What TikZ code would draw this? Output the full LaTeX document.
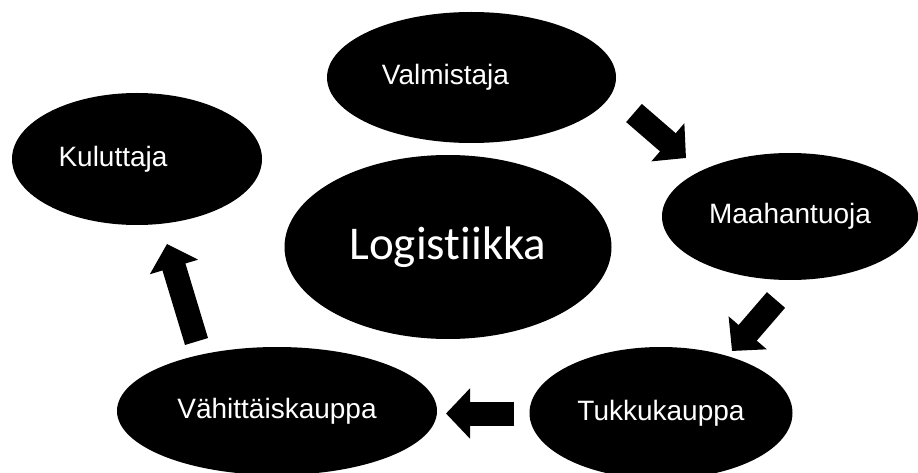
\documentclass[tikz,border=0pt]{standalone}
\usepackage{fontspec}
\setmainfont{Liberation Sans}
\newfontfamily\hubfont[Ligatures=NoCommon]{Carlito}
\usetikzlibrary{shapes.geometric,arrows.meta}
\tikzset{
    stage/.style={ellipse, fill=black, text=white, inner sep=0pt,
        font=\fontsize{28}{32}\selectfont},
    hub/.style={stage, font=\hubfont\fontsize{47}{52}\selectfont},
    flow/.style={line width=24pt, -{Triangle[length=24pt, width=49pt]}}
}
\begin{document}
\begin{tikzpicture}[x=1pt, y=-1pt]
        \useasboundingbox (0, 0) rectangle (918, 473);
        \node[stage, minimum width=289pt, minimum height=131pt] (valm) at (471.5, 77.5) {Valmistaja\kern52pt};
        \node[stage, minimum width=250pt, minimum height=132pt] (kulu) at (137, 159) {Kuluttaja\kern48pt};
        \node[hub, minimum width=327pt, minimum height=184pt] (logi) at (448, 247) {Logistiikka};
        \node[stage, minimum width=256pt, minimum height=127pt] (maah) at (790, 216.5) {Maahantuoja};
        \node[stage, minimum width=263pt, minimum height=132pt] (tukk) at (661, 413) {Tukkukauppa};
        \node[stage, minimum width=320pt, minimum height=128pt] (vahi) at (277, 411) {Vähittäiskauppa};
        \coordinate (valm-out) at (634, 113);
        \coordinate (maah-in) at (686, 158);
        \coordinate (maah-out) at (776, 300);
        \coordinate (tukk-in) at (732, 351);
        \coordinate (tukk-out) at (514, 413.5);
        \coordinate (vahi-in) at (446, 413.5);
        \coordinate (vahi-out) at (196.5, 341.5);
        \coordinate (kulu-in) at (167, 244);
        \draw[flow] (valm-out) -- (maah-in);
        \draw[flow] (maah-out) -- (tukk-in);
        \draw[flow] (tukk-out) -- (vahi-in);
        \draw[flow] (vahi-out) -- (kulu-in);
    \end{tikzpicture}
\end{document}
